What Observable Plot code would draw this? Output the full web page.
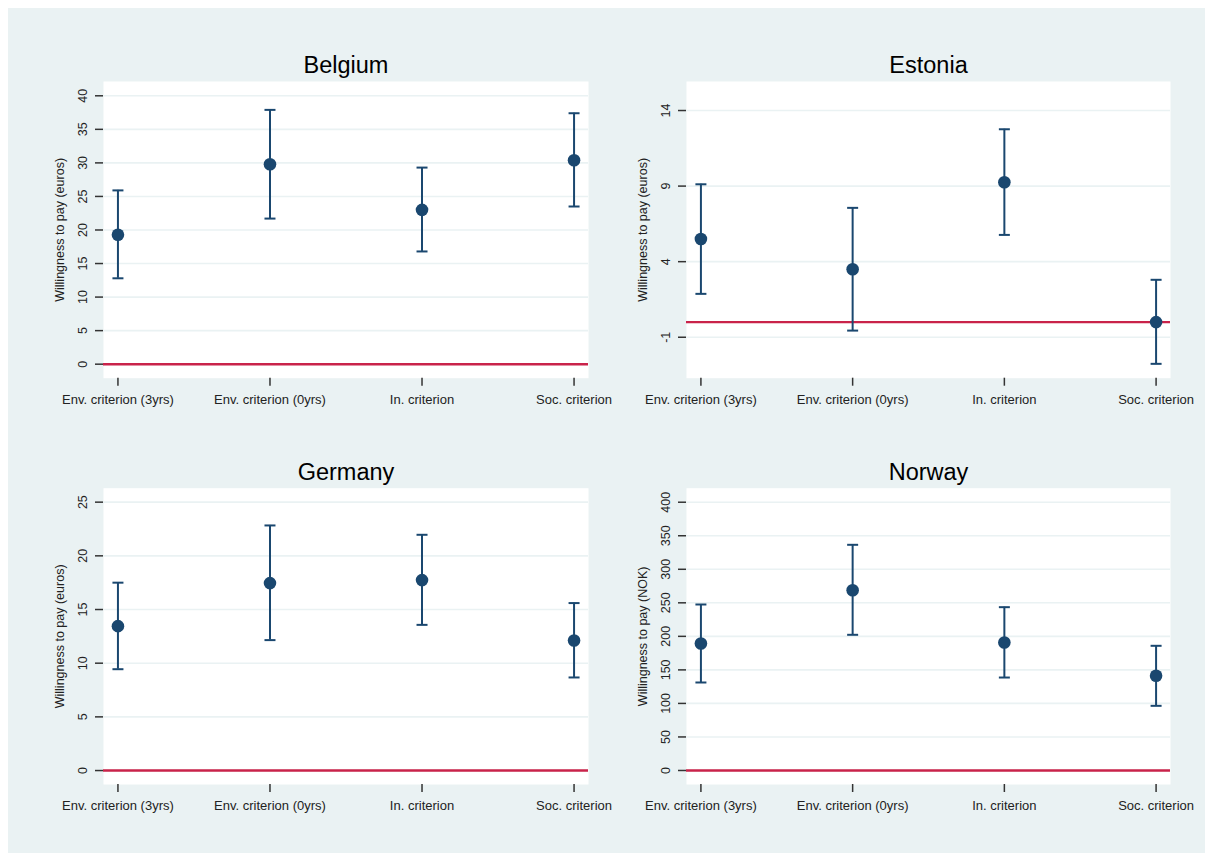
<!DOCTYPE html>
<html>
<head>
<meta charset="utf-8">
<script src="https://cdn.jsdelivr.net/npm/d3@7"></script>
<script src="https://cdn.jsdelivr.net/npm/@observablehq/plot@0.6"></script>
<style>
  html, body { margin: 0; padding: 0; background: #ffffff; }
  #root { position: relative; width: 1205px; height: 853px; background: #ffffff; overflow: hidden; }
  #bg { position: absolute; left: 8px; top: 8px; right: 0; bottom: 0; background: #eaf2f3; }
  .panel { position: absolute; }
</style>
</head>
<body>
<div id="root"><div id="bg"></div></div>
<script>
// ---- data ----
const categories = ["Env. criterion (3yrs)", "Env. criterion (0yrs)", "In. criterion", "Soc. criterion"];

const belgiumEst = [19.3, 29.8, 23.0, 30.4];
const belgiumLo  = [12.8, 21.7, 16.8, 23.5];
const belgiumHi  = [25.9, 37.9, 29.3, 37.4];
const belgiumTicks = [0, 5, 10, 15, 20, 25, 30, 35, 40];

const estoniaEst = [5.5, 3.5, 9.25, 0.0];
const estoniaLo  = [1.87, -0.56, 5.77, -2.76];
const estoniaHi  = [9.12, 7.56, 12.76, 2.8];
const estoniaTicks = [-1, 4, 9, 14];

const germanyEst = [13.45, 17.46, 17.74, 12.11];
const germanyLo  = [9.44, 12.15, 13.57, 8.67];
const germanyHi  = [17.5, 22.83, 21.96, 15.6];
const germanyTicks = [0, 5, 10, 15, 20, 25];

const norwayEst = [189.3, 268.8, 190.8, 141.2];
const norwayLo  = [131.2, 202.3, 138.6, 96.4];
const norwayHi  = [247.5, 336.5, 243.5, 185.9];
const norwayTicks = [0, 50, 100, 150, 200, 250, 300, 350, 400];

const titles = ["Belgium", "Estonia", "Germany", "Norway"];
const yLabels = ["Willingness to pay (euros)", "Willingness to pay (euros)", "Willingness to pay (euros)", "Willingness to pay (NOK)"];

// ---- styling ----
const NAVY = "#1a476f";
const RED = "#c9234a";
const GRID = "#eaf2f3";
const AXIS = "#333333";
const FONT = "'Liberation Sans', Arial, sans-serif";

// horizontal cap symbol for error bars
const capSymbol = {
  draw(context, size) {
    const w = Math.sqrt(size / Math.PI);
    context.moveTo(-w, 0);
    context.lineTo(w, 0);
  }
};

function rows(est, lo, hi) {
  return categories.map((c, i) => ({cat: c, est: est[i], lo: lo[i], hi: hi[i]}));
}

function panel({title, ylabel, data, ticks, domain, left, top, width, height, mL, mR, mT, mB}) {
  const chart = Plot.plot({
    width, height,
    marginLeft: mL, marginRight: mR, marginTop: mT, marginBottom: mB,
    style: {background: "transparent", fontFamily: FONT, fontSize: "13px", color: "#000", overflow: "visible"},
    x: {type: "point", domain: categories, padding: 0.095, round: false, axis: null},
    y: {domain, axis: null},
    marks: [
      Plot.frame({fill: "white", stroke: null}),
      Plot.ruleY(ticks, {stroke: GRID, strokeWidth: 1.6}),
      Plot.ruleY([0], {stroke: RED, strokeWidth: 2.4}),
      Plot.axisY({ticks, tickSize: 8, tickFormat: () => "", line: true, label: null, stroke: AXIS, strokeWidth: 1.5}),
      Plot.axisX({tickSize: 8, tickFormat: () => "", line: true, label: null, stroke: AXIS, strokeWidth: 1.5}),
      Plot.text(ticks, {y: d => d, text: d => String(d), frameAnchor: "left", dx: -21, rotate: -90, fontSize: 12.5, textAnchor: "middle", lineAnchor: "middle", fill: "#222"}),
      Plot.text(categories, {x: d => d, text: d => d, frameAnchor: "bottom", dy: 21.5, fontSize: 13, textAnchor: "middle", lineAnchor: "middle", fill: "#222"}),
      Plot.text([ylabel], {frameAnchor: "left", dx: -44, rotate: -90, fontSize: 12.5, textAnchor: "middle", lineAnchor: "middle", fill: "#222"}),
      Plot.text([title], {frameAnchor: "top", dy: -16, fontSize: 23.5, textAnchor: "middle", lineAnchor: "middle", fill: "#000"}),
      Plot.ruleX(data, {x: "cat", y1: "lo", y2: "hi", stroke: NAVY, strokeWidth: 2}),
      Plot.dot(data, {x: "cat", y: "lo", symbol: capSymbol, r: 5.5, stroke: NAVY, strokeWidth: 2, fill: "none"}),
      Plot.dot(data, {x: "cat", y: "hi", symbol: capSymbol, r: 5.5, stroke: NAVY, strokeWidth: 2, fill: "none"}),
      Plot.dot(data, {x: "cat", y: "est", r: 6.3, fill: NAVY, stroke: null})
    ]
  });
  chart.classList.add("panel");
  chart.style.left = left + "px";
  chart.style.top = top + "px";
  document.getElementById("root").appendChild(chart);
}

panel({title: titles[0], ylabel: yLabels[0], data: rows(belgiumEst, belgiumLo, belgiumHi), ticks: belgiumTicks,
  domain: [-2.09, 42.13], left: 8, top: 8, width: 592, height: 422, mL: 95, mR: 12, mT: 73, mB: 52.3});
panel({title: titles[1], ylabel: yLabels[1], data: rows(estoniaEst, estoniaLo, estoniaHi), ticks: estoniaTicks,
  domain: [-3.71, 15.92], left: 600, top: 8, width: 598, height: 422, mL: 86, mR: 28, mT: 73, mB: 52.3});
panel({title: titles[2], ylabel: yLabels[2], data: rows(germanyEst, germanyLo, germanyHi), ticks: germanyTicks,
  domain: [-1.3, 26.3], left: 8, top: 430, width: 592, height: 415, mL: 95, mR: 12, mT: 57.7, mB: 61});
panel({title: titles[3], ylabel: yLabels[3], data: rows(norwayEst, norwayLo, norwayHi), ticks: norwayTicks,
  domain: [-20.9, 420.9], left: 600, top: 430, width: 598, height: 415, mL: 86, mR: 28, mT: 57.7, mB: 61});
</script>
</body>
</html>
